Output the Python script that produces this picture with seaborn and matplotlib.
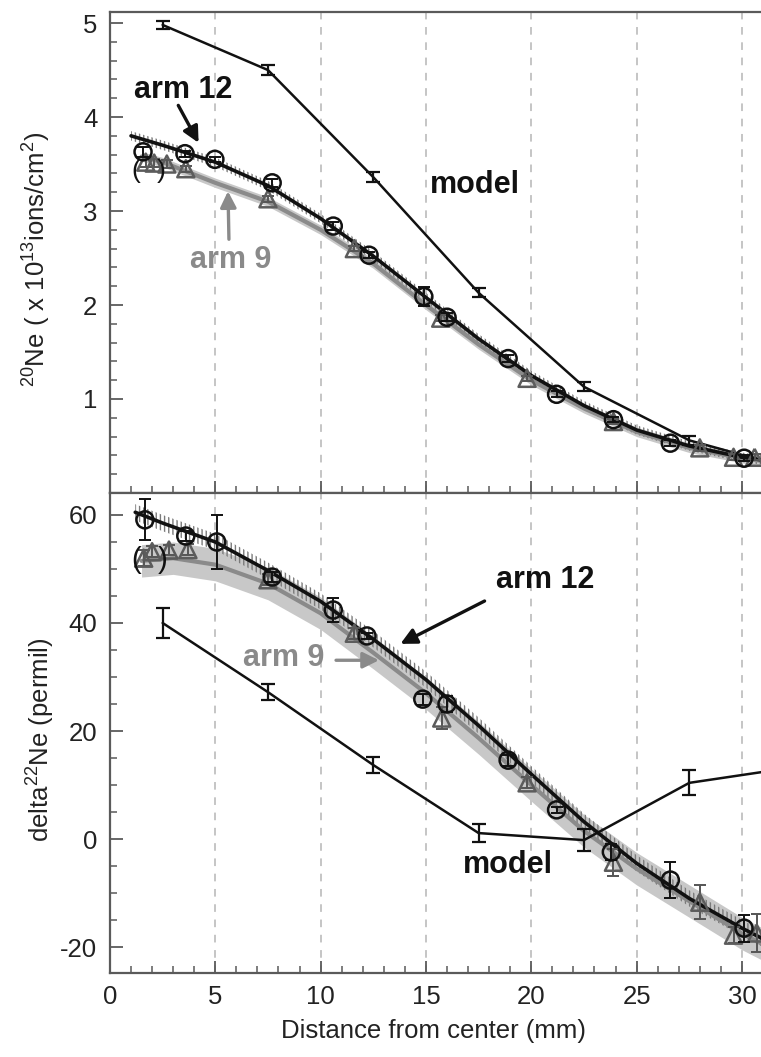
import numpy as np
import pandas as pd
import matplotlib
matplotlib.use("Agg")
import matplotlib.pyplot as plt
import seaborn as sns
from matplotlib.ticker import MultipleLocator

# ---------------- data ----------------
# top panel: 20Ne fluence (x1e13 ions/cm2)
top_model_x = [2.5, 7.5, 12.5, 17.5, 22.5, 27.5, 32.5]
top_model_y = [4.98, 4.50, 3.36, 2.13, 1.13, 0.56, 0.25]
top_model_err = [0.04, 0.05, 0.05, 0.05, 0.05, 0.05, 0.05]

top_arm12_x = [1.57, 3.56, 4.98, 7.7, 10.6, 12.3, 14.9, 16.0, 18.9, 21.2, 23.9, 26.6, 30.1]
top_arm12_y = [3.63, 3.61, 3.55, 3.30, 2.84, 2.53, 2.09, 1.87, 1.43, 1.05, 0.78, 0.53, 0.37]
top_arm12_err = [0.05, 0.03, 0.03, 0.04, 0.04, 0.03, 0.10, 0.04, 0.04, 0.03, 0.03, 0.03, 0.03]

top_arm9_x = [1.7, 2.1, 2.7, 3.6, 7.5, 11.6, 15.7, 19.8, 23.9, 28.0, 29.6, 30.6]
top_arm9_y = [3.52, 3.51, 3.50, 3.45, 3.13, 2.60, 1.86, 1.22, 0.76, 0.48, 0.38, 0.38]
top_arm9_err = [0.05, 0.04, 0.04, 0.03, 0.03, 0.03, 0.03, 0.03, 0.03, 0.03, 0.03, 0.03]

top_fit12_x = [1.0, 2.5, 5, 7.5, 10, 12.5, 15, 17.5, 20, 22.5, 25, 27.5, 30, 31]
top_fit12_y = [3.80, 3.70, 3.52, 3.27, 2.92, 2.52, 2.08, 1.64, 1.25, 0.93, 0.67, 0.50, 0.38, 0.35]
top_fit9_x = [1.5, 2.5, 5, 7.5, 10, 12.5, 15, 17.5, 20, 22.5, 25, 27.5, 30, 31]
top_fit9_y = [3.58, 3.52, 3.30, 3.10, 2.80, 2.44, 2.00, 1.58, 1.20, 0.90, 0.65, 0.48, 0.37, 0.34]

# bottom panel: delta 22Ne (permil)
bot_model_x = [2.5, 7.5, 12.5, 17.5, 22.5, 27.5, 32.5]
bot_model_y = [40.0, 27.2, 13.7, 1.1, -0.2, 10.4, 13.3]
bot_model_err = [2.8, 1.5, 1.5, 1.6, 2.0, 2.3, 2.0]

bot_arm12_x = [1.66, 3.6, 5.07, 7.7, 10.6, 12.2, 14.85, 16.0, 18.9, 21.2, 23.8, 26.6, 30.1]
bot_arm12_y = [59.1, 56.1, 55.0, 48.5, 42.4, 37.6, 25.9, 25.0, 14.6, 5.4, -2.4, -7.6, -16.5]
bot_arm12_err = [3.8, 1.0, 5.0, 1.0, 2.3, 0.6, 1.0, 1.5, 1.0, 0.6, 1.5, 3.3, 2.5]

bot_arm9_x = [1.6, 2.0, 2.8, 3.7, 7.5, 11.6, 15.75, 19.8, 23.9, 28.0, 29.6, 30.7]
bot_arm9_y = [52.0, 53.2, 53.5, 53.6, 48.0, 38.1, 22.4, 10.4, -4.3, -11.7, -17.8, -17.4]
bot_arm9_err = [1.5, 1.0, 1.0, 1.0, 1.0, 1.0, 2.0, 1.0, 2.5, 3.2, 1.5, 3.5]

bot_fit12_x = [1.2, 2.5, 5, 7.5, 10, 12.5, 15, 17.5, 20, 22.5, 25, 27.5, 30, 31]
bot_fit12_y = [60.5, 58.5, 55.0, 49.7, 44.0, 37.0, 29.5, 21.0, 12.0, 3.2, -4.5, -11.0, -16.5, -18.5]
bot_fit9_x = [1.5, 3, 5, 7.5, 10, 12.5, 15, 17.5, 20, 22.5, 25, 27.5, 30, 31]
bot_fit9_y = [51.5, 52.0, 50.8, 47.3, 41.8, 34.5, 27.0, 18.7, 10.0, 1.5, -5.5, -11.5, -17.5, -19.5]

x_ticks = [0, 5, 10, 15, 20, 25, 30]
top_yticks = [1, 2, 3, 4, 5]
bot_yticks = [-20, 0, 20, 40, 60]

# ---------------- style ----------------
sns.set_theme(style="white")
plt.rcParams['font.family'] = ['Liberation Sans', 'DejaVu Sans']
plt.rcParams['mathtext.fontset'] = 'custom'
plt.rcParams['mathtext.rm'] = 'Liberation Sans'
plt.rcParams['mathtext.it'] = 'Liberation Sans:italic'
plt.rcParams['mathtext.bf'] = 'Liberation Sans:bold'
plt.rcParams['mathtext.default'] = 'regular'
plt.rcParams['axes.unicode_minus'] = False

GRAY = '#8a8a8a'
SPINE = '#5a5a5a'

fig = plt.figure(figsize=(7.61, 10.57), dpi=100)
ax_w = 0.872
ax1 = fig.add_axes([0.1445, 0.5336, ax_w, 0.4550])
ax2 = fig.add_axes([0.1445, 0.0795, ax_w, 0.4541])


def style_axis(ax, ylim, yticks, ymin, show_xlabels):
    ax.set_xlim(0, 31.5)
    ax.set_ylim(*ylim)
    ax.set_xticks(x_ticks)
    ax.set_yticks(yticks)
    ax.xaxis.set_minor_locator(MultipleLocator(1))
    ax.yaxis.set_minor_locator(MultipleLocator(ymin))
    ax.tick_params(which='major', direction='in', length=9, width=1.3, color=SPINE,
                   labelsize=18.5, labelcolor='#222222', bottom=True, left=True, top=False,
                   right=False, pad=9)
    ax.tick_params(which='minor', direction='in', length=5, width=1.1, color=SPINE,
                   bottom=True, left=True, top=False, right=False)
    if not show_xlabels:
        ax.tick_params(axis='x', labelbottom=False)
    for s in ax.spines.values():
        s.set_color(SPINE)
        s.set_linewidth(1.6)
    for xv in x_ticks[1:]:
        ax.axvline(xv, color='#b5b5b5', lw=1.1, ls=(0, (5, 5)), zorder=0)


def draw_panel(ax, fit12x, fit12y, fit9x, fit9y, band12, band9,
               mx, my, merr, a12x, a12y, a12e, a9x, a9y, a9e):
    # shaded fit bands
    f9y = np.array(fit9y)
    ax.fill_between(fit9x, f9y - band9, f9y + band9, color='#c8c8c8', lw=0, zorder=1)
    f12y = np.array(fit12y)
    ax.fill_between(fit12x, f12y - band12, f12y + band12, facecolor='none',
                    edgecolor='#7a7a7a', hatch='||||', lw=0, zorder=1.5)
    # fit lines
    d9 = pd.DataFrame({'x': fit9x, 'y': fit9y})
    d12 = pd.DataFrame({'x': fit12x, 'y': fit12y})
    sns.lineplot(data=d9, x='x', y='y', ax=ax, color=GRAY, lw=3.0, sort=False, zorder=2)
    sns.lineplot(data=d12, x='x', y='y', ax=ax, color='#111111', lw=2.6, sort=False, zorder=3)
    # model
    dm = pd.DataFrame({'x': mx, 'y': my})
    sns.lineplot(data=dm, x='x', y='y', ax=ax, color='#111111', lw=1.8, sort=False, zorder=4)
    ax.errorbar(mx, my, yerr=merr, fmt='none', ecolor='#111111', elinewidth=1.6,
                capsize=5, capthick=1.6, zorder=4)
    # arm 9 triangles
    ax.errorbar(a9x, a9y, yerr=a9e, fmt='none', ecolor='#555555', elinewidth=1.4,
                capsize=4, capthick=1.4, zorder=5)
    sns.scatterplot(x=a9x, y=a9y, ax=ax, marker='^', s=150, facecolor='none',
                    edgecolor='#5c5c5c', linewidth=1.8, zorder=5)
    # arm 12 circles
    ax.errorbar(a12x, a12y, yerr=a12e, fmt='none', ecolor='#111111', elinewidth=1.4,
                capsize=4, capthick=1.4, zorder=6)
    sns.scatterplot(x=a12x, y=a12y, ax=ax, marker='o', s=150, facecolor='none',
                    edgecolor='#111111', linewidth=1.8, zorder=6)
    ax.set_xlabel('')
    ax.set_ylabel('')


draw_panel(ax1, top_fit12_x, top_fit12_y, top_fit9_x, top_fit9_y, 0.05, 0.05,
           top_model_x, top_model_y, top_model_err,
           top_arm12_x, top_arm12_y, top_arm12_err,
           top_arm9_x, top_arm9_y, top_arm9_err)
draw_panel(ax2, bot_fit12_x, bot_fit12_y, bot_fit9_x, bot_fit9_y, 1.5, 3.0,
           bot_model_x, bot_model_y, bot_model_err,
           bot_arm12_x, bot_arm12_y, bot_arm12_err,
           bot_arm9_x, bot_arm9_y, bot_arm9_err)

style_axis(ax1, (0, 5.117), top_yticks, 0.2, False)
style_axis(ax2, (-24.8, 64.07), bot_yticks, 5, True)

ANN = 22
# annotations - top
ax1.text(3.46, 4.29, 'arm 12', fontsize=ANN, fontweight='bold', color='#111111',
         ha='center', va='center', zorder=8)
ax1.annotate('', xy=(4.27, 3.70), xytext=(3.18, 4.15),
             arrowprops=dict(arrowstyle='-|>', color='#111111', lw=2.4, mutation_scale=24), zorder=8)
ax1.text(5.74, 2.48, 'arm 9', fontsize=ANN, fontweight='bold', color=GRAY,
         ha='center', va='center', zorder=8)
ax1.annotate('', xy=(5.6, 3.24), xytext=(5.65, 2.67),
             arrowprops=dict(arrowstyle='-|>', color=GRAY, lw=2.4, mutation_scale=24), zorder=8)
ax1.text(17.3, 3.28, 'model', fontsize=ANN, fontweight='bold', color='#111111',
         ha='center', va='center', zorder=8)
ax1.text(1.25, 3.43, '(', fontsize=19, color='#111111', ha='center', va='center', zorder=8)
ax1.text(2.45, 3.43, ')', fontsize=19, color='#111111', ha='center', va='center', zorder=8)

# annotations - bottom
ax2.text(8.26, 33.5, 'arm 9', fontsize=ANN, fontweight='bold', color=GRAY,
         ha='center', va='center', zorder=8)
ax2.annotate('', xy=(12.9, 33.1), xytext=(10.6, 33.1),
             arrowprops=dict(arrowstyle='-|>', color=GRAY, lw=2.4, mutation_scale=24), zorder=8)
ax2.text(20.65, 48.0, 'arm 12', fontsize=ANN, fontweight='bold', color='#111111',
         ha='center', va='center', zorder=8)
ax2.annotate('', xy=(13.67, 35.9), xytext=(17.9, 44.3),
             arrowprops=dict(arrowstyle='-|>', color='#111111', lw=2.4, mutation_scale=24), zorder=8)
ax2.text(18.9, -4.8, 'model', fontsize=ANN, fontweight='bold', color='#111111',
         ha='center', va='center', zorder=8)
ax2.text(1.25, 51.7, '(', fontsize=21, color='#111111', ha='center', va='center', zorder=8)
ax2.text(2.5, 51.7, ')', fontsize=21, color='#111111', ha='center', va='center', zorder=8)

# axis labels
fig.text(0.048, 0.755, r'$^{20}$Ne ( x 10$^{13}$ions/cm$^{2}$)', rotation=90,
         fontsize=18.5, ha='center', va='center', color='#222222')
fig.text(0.054, 0.30, r'delta$^{22}$Ne (permil)', rotation=90,
         fontsize=18.5, ha='center', va='center', color='#222222')
fig.text(0.57, 0.025, 'Distance from center (mm)', fontsize=18.5, ha='center',
         va='center', color='#222222')

fig.savefig('out.png', dpi=100)
